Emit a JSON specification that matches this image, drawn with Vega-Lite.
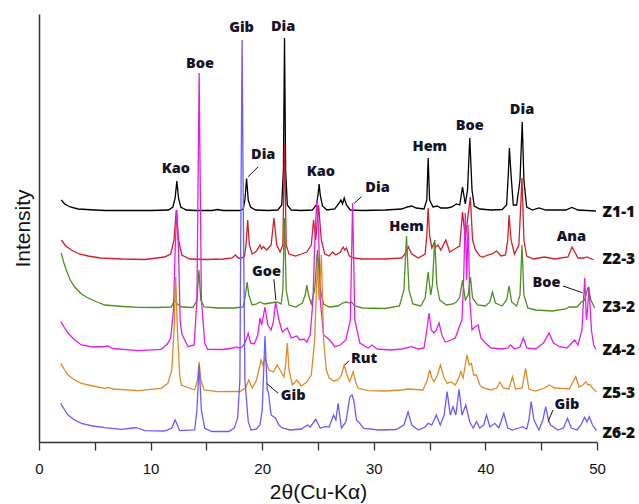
{
  "$schema": "https://vega.github.io/schema/vega-lite/v6.json",
  "width": 558,
  "height": 428,
  "autosize": "none",
  "padding": {"left": 39, "top": 14, "right": 42, "bottom": 62},
  "background": "white",
  "config": {"view": {"stroke": null}},
  "datasets": {
    "xrd": [
      {"s":"Z1-1","x":2.0,"y":242},{"s":"Z1-1","x":2.3,"y":238},{"s":"Z1-1","x":2.8,"y":235},{"s":"Z1-1","x":3.5,"y":233},{"s":"Z1-1","x":5,"y":232},{"s":"Z1-1","x":6,"y":231.5},{"s":"Z1-1","x":8,"y":231.5},{"s":"Z1-1","x":10,"y":231.5},{"s":"Z1-1","x":11.6,"y":232},{"s":"Z1-1","x":12.0,"y":235},{"s":"Z1-1","x":12.2,"y":244},{"s":"Z1-1","x":12.35,"y":261},{"s":"Z1-1","x":12.5,"y":244},{"s":"Z1-1","x":12.7,"y":235},{"s":"Z1-1","x":13.2,"y":232},{"s":"Z1-1","x":14,"y":231.5},{"s":"Z1-1","x":15.5,"y":231.5},{"s":"Z1-1","x":16,"y":232.5},{"s":"Z1-1","x":16.5,"y":231.5},{"s":"Z1-1","x":18.0,"y":231.5},{"s":"Z1-1","x":18.3,"y":233},{"s":"Z1-1","x":18.45,"y":242},{"s":"Z1-1","x":18.6,"y":263.5},{"s":"Z1-1","x":18.75,"y":242},{"s":"Z1-1","x":18.95,"y":235},{"s":"Z1-1","x":19.4,"y":232},{"s":"Z1-1","x":20.5,"y":231.5},{"s":"Z1-1","x":21.4,"y":232},{"s":"Z1-1","x":21.75,"y":237},{"s":"Z1-1","x":21.9,"y":272},{"s":"Z1-1","x":22.0,"y":404},{"s":"Z1-1","x":22.1,"y":272},{"s":"Z1-1","x":22.25,"y":237},{"s":"Z1-1","x":22.6,"y":232},{"s":"Z1-1","x":23.5,"y":231.5},{"s":"Z1-1","x":24.5,"y":232},{"s":"Z1-1","x":24.85,"y":237},{"s":"Z1-1","x":25.0,"y":247},{"s":"Z1-1","x":25.1,"y":258},{"s":"Z1-1","x":25.2,"y":247},{"s":"Z1-1","x":25.4,"y":236},{"s":"Z1-1","x":25.8,"y":232},{"s":"Z1-1","x":26.5,"y":233},{"s":"Z1-1","x":26.9,"y":239},{"s":"Z1-1","x":27.05,"y":242},{"s":"Z1-1","x":27.2,"y":238},{"s":"Z1-1","x":27.35,"y":244},{"s":"Z1-1","x":27.55,"y":237},{"s":"Z1-1","x":27.9,"y":232},{"s":"Z1-1","x":29,"y":231.5},{"s":"Z1-1","x":31,"y":232},{"s":"Z1-1","x":32.5,"y":233},{"s":"Z1-1","x":33.0,"y":235},{"s":"Z1-1","x":33.4,"y":236},{"s":"Z1-1","x":33.8,"y":234},{"s":"Z1-1","x":34.5,"y":233},{"s":"Z1-1","x":34.75,"y":242},{"s":"Z1-1","x":34.87,"y":284},{"s":"Z1-1","x":35.0,"y":242},{"s":"Z1-1","x":35.3,"y":235},{"s":"Z1-1","x":35.7,"y":236},{"s":"Z1-1","x":36.0,"y":234},{"s":"Z1-1","x":36.6,"y":234},{"s":"Z1-1","x":37.0,"y":235},{"s":"Z1-1","x":37.4,"y":238},{"s":"Z1-1","x":37.7,"y":237},{"s":"Z1-1","x":37.95,"y":255},{"s":"Z1-1","x":38.2,"y":238},{"s":"Z1-1","x":38.4,"y":252},{"s":"Z1-1","x":38.6,"y":304},{"s":"Z1-1","x":38.8,"y":252},{"s":"Z1-1","x":39.0,"y":236},{"s":"Z1-1","x":39.5,"y":233},{"s":"Z1-1","x":40.5,"y":232},{"s":"Z1-1","x":41.5,"y":232.5},{"s":"Z1-1","x":41.9,"y":237},{"s":"Z1-1","x":42.05,"y":267},{"s":"Z1-1","x":42.15,"y":294},{"s":"Z1-1","x":42.3,"y":267},{"s":"Z1-1","x":42.5,"y":237},{"s":"Z1-1","x":42.8,"y":237},{"s":"Z1-1","x":43.1,"y":262},{"s":"Z1-1","x":43.3,"y":320},{"s":"Z1-1","x":43.45,"y":262},{"s":"Z1-1","x":43.7,"y":235},{"s":"Z1-1","x":44.2,"y":232},{"s":"Z1-1","x":44.8,"y":234},{"s":"Z1-1","x":45.4,"y":232},{"s":"Z1-1","x":47.2,"y":232},{"s":"Z1-1","x":47.75,"y":234.5},{"s":"Z1-1","x":48.3,"y":232},{"s":"Z1-1","x":49.9,"y":231},

      {"s":"Z2-3","x":2.0,"y":202},{"s":"Z2-3","x":2.4,"y":196},{"s":"Z2-3","x":2.9,"y":192},{"s":"Z2-3","x":3.6,"y":188},{"s":"Z2-3","x":4.4,"y":186},{"s":"Z2-3","x":5.5,"y":184},{"s":"Z2-3","x":7.4,"y":183},{"s":"Z2-3","x":9.5,"y":182.5},{"s":"Z2-3","x":11.25,"y":185},{"s":"Z2-3","x":11.8,"y":188},{"s":"Z2-3","x":12.1,"y":202},{"s":"Z2-3","x":12.3,"y":232},{"s":"Z2-3","x":12.5,"y":202},{"s":"Z2-3","x":12.8,"y":187},{"s":"Z2-3","x":13.5,"y":183},{"s":"Z2-3","x":15,"y":182.5},{"s":"Z2-3","x":16.5,"y":183},{"s":"Z2-3","x":17.3,"y":184},{"s":"Z2-3","x":17.6,"y":187},{"s":"Z2-3","x":17.9,"y":183.5},{"s":"Z2-3","x":18.4,"y":185},{"s":"Z2-3","x":18.55,"y":197},{"s":"Z2-3","x":18.7,"y":222},{"s":"Z2-3","x":18.85,"y":197},{"s":"Z2-3","x":19.1,"y":188},{"s":"Z2-3","x":19.5,"y":191},{"s":"Z2-3","x":19.8,"y":197},{"s":"Z2-3","x":19.95,"y":193},{"s":"Z2-3","x":20.1,"y":195.5},{"s":"Z2-3","x":20.4,"y":192},{"s":"Z2-3","x":20.8,"y":197},{"s":"Z2-3","x":21.05,"y":224},{"s":"Z2-3","x":21.3,"y":197},{"s":"Z2-3","x":21.6,"y":190},{"s":"Z2-3","x":21.85,"y":197},{"s":"Z2-3","x":22.0,"y":299},{"s":"Z2-3","x":22.15,"y":197},{"s":"Z2-3","x":22.4,"y":188},{"s":"Z2-3","x":23.0,"y":186},{"s":"Z2-3","x":23.5,"y":188},{"s":"Z2-3","x":24.0,"y":190},{"s":"Z2-3","x":24.4,"y":197},{"s":"Z2-3","x":24.6,"y":222},{"s":"Z2-3","x":24.8,"y":202},{"s":"Z2-3","x":25.05,"y":237},{"s":"Z2-3","x":25.3,"y":202},{"s":"Z2-3","x":25.6,"y":188},{"s":"Z2-3","x":26.0,"y":186},{"s":"Z2-3","x":26.3,"y":190},{"s":"Z2-3","x":26.6,"y":187},{"s":"Z2-3","x":27.0,"y":190},{"s":"Z2-3","x":27.25,"y":195},{"s":"Z2-3","x":27.4,"y":192},{"s":"Z2-3","x":27.55,"y":194},{"s":"Z2-3","x":27.8,"y":186},{"s":"Z2-3","x":28.2,"y":184},{"s":"Z2-3","x":29,"y":183},{"s":"Z2-3","x":31,"y":183},{"s":"Z2-3","x":32.5,"y":184},{"s":"Z2-3","x":32.8,"y":188},{"s":"Z2-3","x":33.1,"y":195},{"s":"Z2-3","x":33.4,"y":188},{"s":"Z2-3","x":34.0,"y":184},{"s":"Z2-3","x":34.6,"y":188},{"s":"Z2-3","x":34.75,"y":207},{"s":"Z2-3","x":34.87,"y":234},{"s":"Z2-3","x":35.0,"y":207},{"s":"Z2-3","x":35.2,"y":194},{"s":"Z2-3","x":35.4,"y":199},{"s":"Z2-3","x":35.55,"y":195},{"s":"Z2-3","x":35.75,"y":197},{"s":"Z2-3","x":36.0,"y":192},{"s":"Z2-3","x":36.45,"y":202},{"s":"Z2-3","x":36.8,"y":190},{"s":"Z2-3","x":37.1,"y":192},{"s":"Z2-3","x":37.4,"y":194},{"s":"Z2-3","x":37.7,"y":196},{"s":"Z2-3","x":37.95,"y":230},{"s":"Z2-3","x":38.2,"y":204},{"s":"Z2-3","x":38.45,"y":227},{"s":"Z2-3","x":38.65,"y":245},{"s":"Z2-3","x":38.85,"y":202},{"s":"Z2-3","x":39.1,"y":192},{"s":"Z2-3","x":39.5,"y":186},{"s":"Z2-3","x":39.8,"y":185},{"s":"Z2-3","x":40.2,"y":187},{"s":"Z2-3","x":40.6,"y":188},{"s":"Z2-3","x":41.0,"y":191},{"s":"Z2-3","x":41.4,"y":186},{"s":"Z2-3","x":41.8,"y":187},{"s":"Z2-3","x":42.0,"y":202},{"s":"Z2-3","x":42.12,"y":227},{"s":"Z2-3","x":42.3,"y":202},{"s":"Z2-3","x":42.6,"y":188},{"s":"Z2-3","x":43.0,"y":197},{"s":"Z2-3","x":43.28,"y":264},{"s":"Z2-3","x":43.45,"y":202},{"s":"Z2-3","x":43.7,"y":186},{"s":"Z2-3","x":44.3,"y":183},{"s":"Z2-3","x":45.3,"y":185},{"s":"Z2-3","x":46.2,"y":183},{"s":"Z2-3","x":47.4,"y":185},{"s":"Z2-3","x":47.65,"y":192},{"s":"Z2-3","x":47.76,"y":195},{"s":"Z2-3","x":47.9,"y":192},{"s":"Z2-3","x":48.3,"y":184},{"s":"Z2-3","x":48.8,"y":184},{"s":"Z2-3","x":49.1,"y":185},{"s":"Z2-3","x":49.7,"y":182},

      {"s":"Z3-2","x":2.0,"y":189},{"s":"Z3-2","x":2.2,"y":180},{"s":"Z3-2","x":2.45,"y":172},{"s":"Z3-2","x":2.8,"y":162},{"s":"Z3-2","x":3.2,"y":155},{"s":"Z3-2","x":3.8,"y":148},{"s":"Z3-2","x":4.4,"y":144},{"s":"Z3-2","x":5.2,"y":140},{"s":"Z3-2","x":5.9,"y":137},{"s":"Z3-2","x":7.5,"y":135.5},{"s":"Z3-2","x":8.9,"y":134.7},{"s":"Z3-2","x":10.5,"y":134.5},{"s":"Z3-2","x":11.85,"y":135},{"s":"Z3-2","x":12.15,"y":142},{"s":"Z3-2","x":12.4,"y":138},{"s":"Z3-2","x":12.8,"y":135},{"s":"Z3-2","x":13.8,"y":134.5},{"s":"Z3-2","x":14.15,"y":142},{"s":"Z3-2","x":14.33,"y":172},{"s":"Z3-2","x":14.5,"y":142},{"s":"Z3-2","x":14.8,"y":135},{"s":"Z3-2","x":16,"y":134},{"s":"Z3-2","x":17.5,"y":134},{"s":"Z3-2","x":18.3,"y":135},{"s":"Z3-2","x":18.5,"y":147},{"s":"Z3-2","x":18.65,"y":160},{"s":"Z3-2","x":18.8,"y":147},{"s":"Z3-2","x":19.1,"y":137},{"s":"Z3-2","x":19.5,"y":138},{"s":"Z3-2","x":19.8,"y":140},{"s":"Z3-2","x":20.2,"y":138},{"s":"Z3-2","x":20.7,"y":139},{"s":"Z3-2","x":21.3,"y":140},{"s":"Z3-2","x":21.7,"y":138},{"s":"Z3-2","x":21.85,"y":152},{"s":"Z3-2","x":22.0,"y":224},{"s":"Z3-2","x":22.15,"y":152},{"s":"Z3-2","x":22.4,"y":137},{"s":"Z3-2","x":23.0,"y":135},{"s":"Z3-2","x":23.6,"y":139},{"s":"Z3-2","x":23.85,"y":147},{"s":"Z3-2","x":24.0,"y":157},{"s":"Z3-2","x":24.15,"y":147},{"s":"Z3-2","x":24.4,"y":138},{"s":"Z3-2","x":24.7,"y":152},{"s":"Z3-2","x":24.95,"y":192},{"s":"Z3-2","x":25.2,"y":152},{"s":"Z3-2","x":25.5,"y":138},{"s":"Z3-2","x":26.0,"y":135},{"s":"Z3-2","x":26.8,"y":136},{"s":"Z3-2","x":27.2,"y":139},{"s":"Z3-2","x":27.55,"y":140},{"s":"Z3-2","x":27.8,"y":139},{"s":"Z3-2","x":28.0,"y":140},{"s":"Z3-2","x":28.3,"y":136},{"s":"Z3-2","x":29,"y":134},{"s":"Z3-2","x":31,"y":133.5},{"s":"Z3-2","x":32.3,"y":136},{"s":"Z3-2","x":32.7,"y":152},{"s":"Z3-2","x":32.93,"y":206},{"s":"Z3-2","x":33.15,"y":152},{"s":"Z3-2","x":33.5,"y":138},{"s":"Z3-2","x":34.2,"y":136},{"s":"Z3-2","x":34.6,"y":144},{"s":"Z3-2","x":34.87,"y":170},{"s":"Z3-2","x":35.1,"y":147},{"s":"Z3-2","x":35.25,"y":157},{"s":"Z3-2","x":35.46,"y":202},{"s":"Z3-2","x":35.65,"y":157},{"s":"Z3-2","x":35.9,"y":142},{"s":"Z3-2","x":36.5,"y":137},{"s":"Z3-2","x":37.1,"y":138},{"s":"Z3-2","x":37.4,"y":140},{"s":"Z3-2","x":37.7,"y":145},{"s":"Z3-2","x":37.95,"y":162},{"s":"Z3-2","x":38.2,"y":142},{"s":"Z3-2","x":38.45,"y":147},{"s":"Z3-2","x":38.66,"y":165},{"s":"Z3-2","x":38.85,"y":144},{"s":"Z3-2","x":39.3,"y":137},{"s":"Z3-2","x":40.0,"y":136},{"s":"Z3-2","x":40.4,"y":140},{"s":"Z3-2","x":40.63,"y":150},{"s":"Z3-2","x":40.9,"y":139},{"s":"Z3-2","x":41.5,"y":136},{"s":"Z3-2","x":41.9,"y":142},{"s":"Z3-2","x":42.12,"y":156},{"s":"Z3-2","x":42.35,"y":140},{"s":"Z3-2","x":42.8,"y":136},{"s":"Z3-2","x":43.1,"y":147},{"s":"Z3-2","x":43.28,"y":197},{"s":"Z3-2","x":43.45,"y":147},{"s":"Z3-2","x":43.8,"y":134},{"s":"Z3-2","x":44.5,"y":132},{"s":"Z3-2","x":46,"y":131},{"s":"Z3-2","x":47.2,"y":133},{"s":"Z3-2","x":47.5,"y":135},{"s":"Z3-2","x":47.8,"y":135},{"s":"Z3-2","x":48.2,"y":135},{"s":"Z3-2","x":48.6,"y":140},{"s":"Z3-2","x":48.9,"y":142},{"s":"Z3-2","x":49.2,"y":155},{"s":"Z3-2","x":49.45,"y":142},{"s":"Z3-2","x":49.8,"y":134},

      {"s":"Z4-2","x":1.95,"y":120.3},{"s":"Z4-2","x":2.3,"y":114},{"s":"Z4-2","x":2.6,"y":109},{"s":"Z4-2","x":3.2,"y":102},{"s":"Z4-2","x":3.8,"y":97},{"s":"Z4-2","x":4.8,"y":95},{"s":"Z4-2","x":5.9,"y":95.5},{"s":"Z4-2","x":6.2,"y":96},{"s":"Z4-2","x":6.6,"y":93.5},{"s":"Z4-2","x":8.9,"y":91.3},{"s":"Z4-2","x":10.95,"y":92.7},{"s":"Z4-2","x":11.5,"y":98},{"s":"Z4-2","x":11.8,"y":104},{"s":"Z4-2","x":12.05,"y":132},{"s":"Z4-2","x":12.2,"y":192},{"s":"Z4-2","x":12.35,"y":232},{"s":"Z4-2","x":12.5,"y":192},{"s":"Z4-2","x":12.65,"y":122},{"s":"Z4-2","x":12.8,"y":108},{"s":"Z4-2","x":13.35,"y":95.3},{"s":"Z4-2","x":13.9,"y":97},{"s":"Z4-2","x":14.15,"y":142},{"s":"Z4-2","x":14.35,"y":369},{"s":"Z4-2","x":14.55,"y":142},{"s":"Z4-2","x":14.85,"y":99},{"s":"Z4-2","x":15.1,"y":92.7},{"s":"Z4-2","x":16.5,"y":92.5},{"s":"Z4-2","x":17.4,"y":94},{"s":"Z4-2","x":17.7,"y":95.3},{"s":"Z4-2","x":17.9,"y":94},{"s":"Z4-2","x":18.2,"y":95},{"s":"Z4-2","x":18.5,"y":100},{"s":"Z4-2","x":18.75,"y":108.7},{"s":"Z4-2","x":18.95,"y":99},{"s":"Z4-2","x":19.3,"y":98},{"s":"Z4-2","x":19.6,"y":107},{"s":"Z4-2","x":19.8,"y":124},{"s":"Z4-2","x":19.95,"y":117},{"s":"Z4-2","x":20.25,"y":135},{"s":"Z4-2","x":20.5,"y":117},{"s":"Z4-2","x":20.8,"y":112},{"s":"Z4-2","x":21.0,"y":120},{"s":"Z4-2","x":21.2,"y":140},{"s":"Z4-2","x":21.5,"y":122},{"s":"Z4-2","x":21.8,"y":110},{"s":"Z4-2","x":22.25,"y":114},{"s":"Z4-2","x":22.6,"y":104},{"s":"Z4-2","x":23.1,"y":106},{"s":"Z4-2","x":23.4,"y":102},{"s":"Z4-2","x":23.75,"y":103},{"s":"Z4-2","x":24.0,"y":100},{"s":"Z4-2","x":24.3,"y":107},{"s":"Z4-2","x":24.55,"y":142},{"s":"Z4-2","x":24.75,"y":212},{"s":"Z4-2","x":24.9,"y":242},{"s":"Z4-2","x":25.05,"y":212},{"s":"Z4-2","x":25.2,"y":142},{"s":"Z4-2","x":25.5,"y":107},{"s":"Z4-2","x":26.05,"y":102},{"s":"Z4-2","x":26.5,"y":95.3},{"s":"Z4-2","x":27.0,"y":97},{"s":"Z4-2","x":27.5,"y":102},{"s":"Z4-2","x":27.9,"y":122},{"s":"Z4-2","x":28.1,"y":239},{"s":"Z4-2","x":28.3,"y":122},{"s":"Z4-2","x":28.75,"y":99},{"s":"Z4-2","x":29.5,"y":94},{"s":"Z4-2","x":29.85,"y":97},{"s":"Z4-2","x":30.3,"y":93},{"s":"Z4-2","x":31.5,"y":92},{"s":"Z4-2","x":32.5,"y":93},{"s":"Z4-2","x":33.4,"y":95.3},{"s":"Z4-2","x":34.0,"y":93},{"s":"Z4-2","x":34.5,"y":94},{"s":"Z4-2","x":34.75,"y":112},{"s":"Z4-2","x":34.95,"y":129},{"s":"Z4-2","x":35.15,"y":112},{"s":"Z4-2","x":35.4,"y":109},{"s":"Z4-2","x":35.6,"y":112},{"s":"Z4-2","x":35.85,"y":119},{"s":"Z4-2","x":36.1,"y":107},{"s":"Z4-2","x":36.4,"y":100},{"s":"Z4-2","x":36.96,"y":102},{"s":"Z4-2","x":37.3,"y":104},{"s":"Z4-2","x":37.65,"y":115},{"s":"Z4-2","x":37.9,"y":122},{"s":"Z4-2","x":38.05,"y":162},{"s":"Z4-2","x":38.2,"y":229},{"s":"Z4-2","x":38.32,"y":162},{"s":"Z4-2","x":38.45,"y":217},{"s":"Z4-2","x":38.6,"y":142},{"s":"Z4-2","x":38.8,"y":112},{"s":"Z4-2","x":39.05,"y":115},{"s":"Z4-2","x":39.35,"y":117},{"s":"Z4-2","x":39.6,"y":104},{"s":"Z4-2","x":40.0,"y":99},{"s":"Z4-2","x":40.5,"y":94},{"s":"Z4-2","x":41.5,"y":93},{"s":"Z4-2","x":42.0,"y":94},{"s":"Z4-2","x":42.27,"y":97},{"s":"Z4-2","x":42.6,"y":93},{"s":"Z4-2","x":43.1,"y":95},{"s":"Z4-2","x":43.4,"y":104},{"s":"Z4-2","x":43.7,"y":94},{"s":"Z4-2","x":44.5,"y":93},{"s":"Z4-2","x":45.2,"y":99},{"s":"Z4-2","x":45.7,"y":109},{"s":"Z4-2","x":46.1,"y":99},{"s":"Z4-2","x":46.66,"y":95.3},{"s":"Z4-2","x":47.3,"y":94},{"s":"Z4-2","x":48.0,"y":102},{"s":"Z4-2","x":48.3,"y":97},{"s":"Z4-2","x":48.65,"y":112},{"s":"Z4-2","x":48.9,"y":164},{"s":"Z4-2","x":49.05,"y":122},{"s":"Z4-2","x":49.15,"y":132},{"s":"Z4-2","x":49.28,"y":155},{"s":"Z4-2","x":49.5,"y":112},{"s":"Z4-2","x":49.7,"y":97},{"s":"Z4-2","x":49.9,"y":92.7},

      {"s":"Z5-3","x":1.95,"y":78.7},{"s":"Z5-3","x":2.3,"y":72},{"s":"Z5-3","x":2.6,"y":67},{"s":"Z5-3","x":3.2,"y":62},{"s":"Z5-3","x":3.8,"y":58.7},{"s":"Z5-3","x":4.8,"y":56},{"s":"Z5-3","x":5.9,"y":53.7},{"s":"Z5-3","x":6.2,"y":54.5},{"s":"Z5-3","x":6.6,"y":53},{"s":"Z5-3","x":8.9,"y":51.3},{"s":"Z5-3","x":10.95,"y":53.7},{"s":"Z5-3","x":11.55,"y":58.7},{"s":"Z5-3","x":11.9,"y":72},{"s":"Z5-3","x":12.1,"y":112},{"s":"Z5-3","x":12.25,"y":165},{"s":"Z5-3","x":12.4,"y":112},{"s":"Z5-3","x":12.6,"y":67},{"s":"Z5-3","x":12.75,"y":57},{"s":"Z5-3","x":13.95,"y":52},{"s":"Z5-3","x":14.2,"y":62},{"s":"Z5-3","x":14.35,"y":80.3},{"s":"Z5-3","x":14.5,"y":62},{"s":"Z5-3","x":14.8,"y":52},{"s":"Z5-3","x":16,"y":50.3},{"s":"Z5-3","x":18.0,"y":50.5},{"s":"Z5-3","x":18.5,"y":54},{"s":"Z5-3","x":18.8,"y":62},{"s":"Z5-3","x":19.1,"y":54},{"s":"Z5-3","x":19.5,"y":62},{"s":"Z5-3","x":19.9,"y":82},{"s":"Z5-3","x":20.05,"y":77},{"s":"Z5-3","x":20.25,"y":84},{"s":"Z5-3","x":20.6,"y":72},{"s":"Z5-3","x":21.0,"y":70},{"s":"Z5-3","x":21.35,"y":77},{"s":"Z5-3","x":21.7,"y":70},{"s":"Z5-3","x":21.95,"y":65},{"s":"Z5-3","x":22.1,"y":77},{"s":"Z5-3","x":22.25,"y":99},{"s":"Z5-3","x":22.4,"y":72},{"s":"Z5-3","x":22.7,"y":57},{"s":"Z5-3","x":23.1,"y":62},{"s":"Z5-3","x":23.5,"y":56},{"s":"Z5-3","x":24.0,"y":60},{"s":"Z5-3","x":24.4,"y":67},{"s":"Z5-3","x":24.7,"y":102},{"s":"Z5-3","x":24.95,"y":180},{"s":"Z5-3","x":25.1,"y":142},{"s":"Z5-3","x":25.3,"y":187},{"s":"Z5-3","x":25.5,"y":102},{"s":"Z5-3","x":25.75,"y":72},{"s":"Z5-3","x":26.0,"y":64},{"s":"Z5-3","x":26.4,"y":61},{"s":"Z5-3","x":26.8,"y":62},{"s":"Z5-3","x":27.1,"y":67},{"s":"Z5-3","x":27.35,"y":77},{"s":"Z5-3","x":27.6,"y":67},{"s":"Z5-3","x":27.85,"y":60.3},{"s":"Z5-3","x":28.15,"y":70.3},{"s":"Z5-3","x":28.4,"y":59},{"s":"Z5-3","x":28.6,"y":53.7},{"s":"Z5-3","x":29.5,"y":51.3},{"s":"Z5-3","x":31,"y":51},{"s":"Z5-3","x":32.5,"y":52},{"s":"Z5-3","x":33.0,"y":53},{"s":"Z5-3","x":34.4,"y":52},{"s":"Z5-3","x":34.8,"y":62},{"s":"Z5-3","x":35.0,"y":72},{"s":"Z5-3","x":35.2,"y":64},{"s":"Z5-3","x":35.4,"y":60.3},{"s":"Z5-3","x":35.7,"y":67},{"s":"Z5-3","x":35.97,"y":77},{"s":"Z5-3","x":36.3,"y":64},{"s":"Z5-3","x":36.6,"y":58.7},{"s":"Z5-3","x":36.9,"y":60.3},{"s":"Z5-3","x":37.3,"y":57},{"s":"Z5-3","x":37.6,"y":64},{"s":"Z5-3","x":37.8,"y":70.3},{"s":"Z5-3","x":38.0,"y":64},{"s":"Z5-3","x":38.35,"y":87},{"s":"Z5-3","x":38.55,"y":77},{"s":"Z5-3","x":38.75,"y":78.7},{"s":"Z5-3","x":38.95,"y":67},{"s":"Z5-3","x":39.2,"y":67},{"s":"Z5-3","x":39.5,"y":57},{"s":"Z5-3","x":39.8,"y":54},{"s":"Z5-3","x":40.5,"y":52},{"s":"Z5-3","x":41.0,"y":54},{"s":"Z5-3","x":41.3,"y":60},{"s":"Z5-3","x":41.6,"y":54},{"s":"Z5-3","x":42.1,"y":53},{"s":"Z5-3","x":42.43,"y":65.3},{"s":"Z5-3","x":42.7,"y":53},{"s":"Z5-3","x":43.3,"y":54},{"s":"Z5-3","x":43.6,"y":73.7},{"s":"Z5-3","x":43.9,"y":53},{"s":"Z5-3","x":44.5,"y":51},{"s":"Z5-3","x":45.3,"y":54},{"s":"Z5-3","x":45.7,"y":57},{"s":"Z5-3","x":46.2,"y":54},{"s":"Z5-3","x":46.8,"y":53.7},{"s":"Z5-3","x":47.5,"y":53},{"s":"Z5-3","x":48.1,"y":65.3},{"s":"Z5-3","x":48.4,"y":55},{"s":"Z5-3","x":48.75,"y":57},{"s":"Z5-3","x":49.0,"y":60.3},{"s":"Z5-3","x":49.2,"y":57},{"s":"Z5-3","x":49.35,"y":57.7},{"s":"Z5-3","x":49.6,"y":54},{"s":"Z5-3","x":49.95,"y":50.3},

      {"s":"Z6-2","x":1.95,"y":38.7},{"s":"Z6-2","x":2.3,"y":32},{"s":"Z6-2","x":2.6,"y":27},{"s":"Z6-2","x":3.2,"y":22},{"s":"Z6-2","x":3.8,"y":18.7},{"s":"Z6-2","x":4.8,"y":16},{"s":"Z6-2","x":5.9,"y":14.3},{"s":"Z6-2","x":7.4,"y":12.7},{"s":"Z6-2","x":8.4,"y":14},{"s":"Z6-2","x":8.7,"y":14.3},{"s":"Z6-2","x":9.1,"y":13},{"s":"Z6-2","x":9.45,"y":11.3},{"s":"Z6-2","x":11.25,"y":11},{"s":"Z6-2","x":11.9,"y":14},{"s":"Z6-2","x":12.2,"y":22},{"s":"Z6-2","x":12.4,"y":17},{"s":"Z6-2","x":12.6,"y":11.3},{"s":"Z6-2","x":13.95,"y":12},{"s":"Z6-2","x":14.15,"y":32},{"s":"Z6-2","x":14.35,"y":77},{"s":"Z6-2","x":14.55,"y":32},{"s":"Z6-2","x":14.85,"y":13.7},{"s":"Z6-2","x":15.5,"y":10.5},{"s":"Z6-2","x":17.0,"y":10.5},{"s":"Z6-2","x":17.5,"y":14},{"s":"Z6-2","x":17.8,"y":24},{"s":"Z6-2","x":18.0,"y":62},{"s":"Z6-2","x":18.1,"y":242},{"s":"Z6-2","x":18.2,"y":402},{"s":"Z6-2","x":18.3,"y":242},{"s":"Z6-2","x":18.45,"y":62},{"s":"Z6-2","x":18.75,"y":20.3},{"s":"Z6-2","x":19.0,"y":12},{"s":"Z6-2","x":19.5,"y":13},{"s":"Z6-2","x":19.8,"y":17},{"s":"Z6-2","x":20.0,"y":32},{"s":"Z6-2","x":20.25,"y":106},{"s":"Z6-2","x":20.45,"y":52},{"s":"Z6-2","x":20.55,"y":50},{"s":"Z6-2","x":20.8,"y":27},{"s":"Z6-2","x":21.2,"y":23.7},{"s":"Z6-2","x":21.5,"y":17},{"s":"Z6-2","x":21.8,"y":14},{"s":"Z6-2","x":22.5,"y":12},{"s":"Z6-2","x":23.5,"y":13},{"s":"Z6-2","x":24.05,"y":17},{"s":"Z6-2","x":24.3,"y":15},{"s":"Z6-2","x":24.8,"y":22.7},{"s":"Z6-2","x":25.2,"y":13.7},{"s":"Z6-2","x":25.6,"y":15.3},{"s":"Z6-2","x":26.0,"y":15},{"s":"Z6-2","x":26.4,"y":27},{"s":"Z6-2","x":26.6,"y":22},{"s":"Z6-2","x":26.8,"y":38.7},{"s":"Z6-2","x":27.1,"y":14},{"s":"Z6-2","x":27.5,"y":20},{"s":"Z6-2","x":27.85,"y":45},{"s":"Z6-2","x":28.05,"y":47},{"s":"Z6-2","x":28.2,"y":42},{"s":"Z6-2","x":28.45,"y":22},{"s":"Z6-2","x":28.7,"y":19.3},{"s":"Z6-2","x":29.1,"y":13.7},{"s":"Z6-2","x":30.5,"y":12},{"s":"Z6-2","x":32.0,"y":12.5},{"s":"Z6-2","x":32.7,"y":17},{"s":"Z6-2","x":33.07,"y":30.3},{"s":"Z6-2","x":33.4,"y":17},{"s":"Z6-2","x":34.0,"y":12},{"s":"Z6-2","x":34.6,"y":15},{"s":"Z6-2","x":34.87,"y":18.7},{"s":"Z6-2","x":35.2,"y":17},{"s":"Z6-2","x":35.6,"y":27},{"s":"Z6-2","x":35.95,"y":17},{"s":"Z6-2","x":36.3,"y":27},{"s":"Z6-2","x":36.57,"y":50.3},{"s":"Z6-2","x":36.85,"y":27},{"s":"Z6-2","x":37.1,"y":35.3},{"s":"Z6-2","x":37.35,"y":27},{"s":"Z6-2","x":37.64,"y":52.7},{"s":"Z6-2","x":37.9,"y":27},{"s":"Z6-2","x":38.24,"y":37},{"s":"Z6-2","x":38.6,"y":20},{"s":"Z6-2","x":38.9,"y":14},{"s":"Z6-2","x":39.2,"y":20.3},{"s":"Z6-2","x":39.5,"y":14},{"s":"Z6-2","x":39.85,"y":17},{"s":"Z6-2","x":40.1,"y":27},{"s":"Z6-2","x":40.4,"y":15},{"s":"Z6-2","x":40.84,"y":18.7},{"s":"Z6-2","x":41.2,"y":14},{"s":"Z6-2","x":41.65,"y":28.7},{"s":"Z6-2","x":42.0,"y":14},{"s":"Z6-2","x":42.4,"y":12},{"s":"Z6-2","x":43.0,"y":14},{"s":"Z6-2","x":43.3,"y":15.3},{"s":"Z6-2","x":43.7,"y":13},{"s":"Z6-2","x":43.9,"y":22},{"s":"Z6-2","x":44.1,"y":40.3},{"s":"Z6-2","x":44.35,"y":22},{"s":"Z6-2","x":44.8,"y":12},{"s":"Z6-2","x":45.15,"y":22},{"s":"Z6-2","x":45.4,"y":35.3},{"s":"Z6-2","x":45.65,"y":22},{"s":"Z6-2","x":45.85,"y":17},{"s":"Z6-2","x":46.5,"y":12},{"s":"Z6-2","x":47.0,"y":14},{"s":"Z6-2","x":47.35,"y":23.7},{"s":"Z6-2","x":47.7,"y":14},{"s":"Z6-2","x":48.2,"y":12},{"s":"Z6-2","x":48.55,"y":17},{"s":"Z6-2","x":48.9,"y":24.7},{"s":"Z6-2","x":49.1,"y":20},{"s":"Z6-2","x":49.3,"y":25.3},{"s":"Z6-2","x":49.6,"y":17},{"s":"Z6-2","x":49.95,"y":11.3}
    ],
    "peaks": [
      {"t":"Kao","x":12.27,"y":273},{"t":"Boe","x":14.42,"y":378},{"t":"Gib","x":18.15,"y":414},{"t":"Dia","x":21.88,"y":415},
      {"t":"Dia","x":20.09,"y":287},{"t":"Kao","x":25.25,"y":270},{"t":"Dia","x":30.33,"y":253.7},{"t":"Hem","x":35.02,"y":295.3},
      {"t":"Boe","x":38.6,"y":316},{"t":"Dia","x":43.28,"y":332},{"t":"Hem","x":32.93,"y":214.7},{"t":"Ana","x":47.7,"y":204.7},
      {"t":"Goe","x":20.39,"y":170.3},{"t":"Boe","x":45.47,"y":158.7},{"t":"Rut","x":29.13,"y":82.7},{"t":"Gib","x":22.78,"y":46.3},
      {"t":"Gib","x":47.31,"y":37}
    ],
    "leaders": [
      {"x":18.74,"y":265.3,"x2":19.64,"y2":275.3},
      {"x":28.24,"y":238.7,"x2":28.9,"y2":245.3},
      {"x":21.05,"y":162.7,"x2":21.22,"y2":142},
      {"x":46.96,"y":156,"x2":48.69,"y2":149.3},
      {"x":27.4,"y":77,"x2":27.79,"y2":81.3},
      {"x":20.39,"y":58.7,"x2":21.43,"y2":48.7},
      {"x":46.06,"y":32,"x2":45.61,"y2":20.3}
    ],
    "names": [
      {"s":"Z1-1","x":50.5,"y":230},{"s":"Z2-3","x":50.5,"y":182.7},{"s":"Z3-2","x":50.5,"y":135.3},
      {"s":"Z4-2","x":50.5,"y":92},{"s":"Z5-3","x":50.5,"y":48.7},{"s":"Z6-2","x":50.5,"y":9.3}
    ]
  },
  "layer": [
    {
      "data": {"name": "xrd"},
      "mark": {"type": "line", "strokeWidth": 1.3, "interpolate": "linear"},
      "encoding": {
        "x": {
          "field": "x", "type": "quantitative",
          "scale": {"domain": [0, 50], "nice": false, "zero": false},
          "axis": {
            "values": [0, 5, 10, 15, 20, 25, 30, 35, 40, 45, 50],
            "labelExpr": "datum.value % 10 === 0 ? datum.label : ''",
            "title": "2θ(Cu-Kα)",
            "titleFont": "Liberation Sans", "titleFontSize": 21, "titleFontWeight": "normal", "titleColor": "#111",
            "titlePadding": 5,
            "labelFont": "Liberation Sans", "labelFontSize": 15, "labelColor": "#111", "labelPadding": 11, "labelFlush": false,
            "tickSize": 8, "tickColor": "#333", "tickWidth": 1.3,
            "domainColor": "#333", "domainWidth": 1.5, "grid": false
          }
        },
        "y": {
          "field": "y", "type": "quantitative",
          "scale": {"domain": [0, 428], "nice": false, "zero": false},
          "axis": {
            "title": "Intensity", "labels": false, "ticks": false, "grid": false,
            "titleFont": "Liberation Sans", "titleFontSize": 21, "titleFontWeight": "normal", "titleColor": "#111",
            "titlePadding": 6,
            "domainColor": "#333", "domainWidth": 1.5
          }
        },
        "color": {
          "field": "s", "type": "nominal", "legend": null,
          "scale": {
            "domain": ["Z1-1", "Z2-3", "Z3-2", "Z4-2", "Z5-3", "Z6-2"],
            "range": ["#000000", "#d0202e", "#4f8f1f", "#e21ee6", "#e08a28", "#6a5cff"]
          }
        }
      }
    },
    {
      "data": {"name": "leaders"},
      "mark": {"type": "rule", "color": "#111", "strokeWidth": 1},
      "encoding": {
        "x": {"field": "x", "type": "quantitative"},
        "y": {"field": "y", "type": "quantitative"},
        "x2": {"field": "x2"},
        "y2": {"field": "y2"}
      }
    },
    {
      "data": {"name": "peaks"},
      "mark": {"type": "text", "font": "Open Sans", "fontWeight": 800, "fontSize": 14.5, "color": "#141428", "align": "center", "baseline": "middle"},
      "encoding": {
        "x": {"field": "x", "type": "quantitative"},
        "y": {"field": "y", "type": "quantitative"},
        "text": {"field": "t"}
      }
    },
    {
      "data": {"name": "names"},
      "mark": {"type": "text", "font": "Open Sans", "fontWeight": 800, "fontSize": 15.5, "color": "#111", "align": "left", "baseline": "middle"},
      "encoding": {
        "x": {"field": "x", "type": "quantitative"},
        "y": {"field": "y", "type": "quantitative"},
        "text": {"field": "s"}
      }
    }
  ]
}
